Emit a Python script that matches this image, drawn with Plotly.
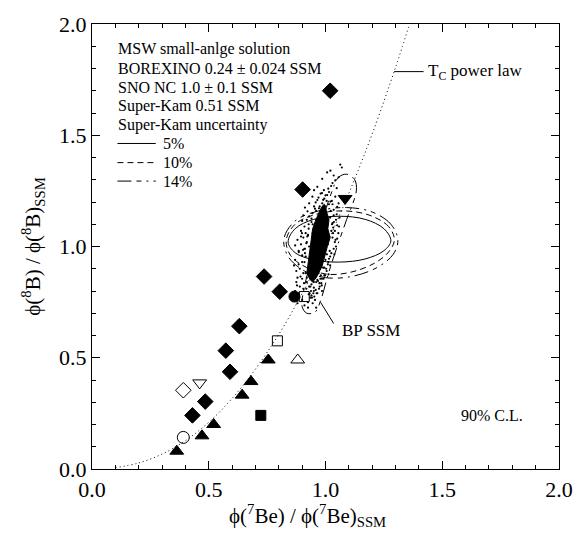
import plotly.graph_objects as go

FONT = "Liberation Serif, Times New Roman, Times, serif"

# ---- measured points (x = phi(7Be)/SSM, y = phi(8B)/SSM) ----
diamond_x = [1.02, 0.902, 0.737, 0.804, 0.631, 0.573, 0.591, 0.485, 0.430]
diamond_y = [1.70, 1.256, 0.865, 0.797, 0.642, 0.532, 0.437, 0.303, 0.241]

tri_up_x = [0.363, 0.471, 0.521, 0.643, 0.681, 0.755]
tri_up_y = [0.080, 0.149, 0.200, 0.332, 0.393, 0.490]

tri_down_x = [1.084]
tri_down_y = [1.216]

square_x = [0.723]
square_y = [0.241]

circle_x = [0.867]
circle_y = [0.775]

open_diamond_x = [0.391]
open_diamond_y = [0.354]

open_tri_down_x = [0.461]
open_tri_down_y = [0.387]

open_circle_x = [0.391]
open_circle_y = [0.142]

open_square_x = [0.794, 0.909]
open_square_y = [0.576, 0.775]

open_tri_up_x = [0.881]
open_tri_up_y = [0.490]

# ---- Tc power-law curve ----
curve_x = [0.10, 0.20, 0.30, 0.40, 0.50, 0.60, 0.70, 0.80, 0.90, 1.00, 1.10, 1.20, 1.30, 1.36]
curve_y = [0.006, 0.027, 0.067, 0.127, 0.21, 0.317, 0.449, 0.605, 0.789, 1.0, 1.239, 1.506, 1.805, 2.0]

# ---- BP SSM Monte Carlo cloud: dense core outline + scattered points ----
core_x = [0.995, 1.005, 1.015, 1.01, 1.02, 1.008, 1.0, 0.99, 0.985, 0.97, 0.96, 0.945, 0.935, 0.92,
          0.925, 0.93, 0.935, 0.94, 0.945, 0.955, 0.965, 0.975, 0.985, 0.995]
core_y = [1.19, 1.15, 1.12, 1.08, 1.04, 1.0, 0.97, 0.94, 0.91, 0.88, 0.86, 0.84, 0.85, 0.88,
          0.92, 0.96, 1.0, 1.04, 1.08, 1.11, 1.14, 1.16, 1.18, 1.19]

cloud_x = [1.063, 1.07, 1.021, 1.035, 1.007, 0.986, 1.042, 1.056, 1.03, 1.024, 0.965, 0.951, 0.993, 1.048, 1.012,
           0.979, 1.007, 1.042, 0.944, 0.965, 0.930, 0.986, 1.021, 1.056, 0.951, 0.972, 1.0, 1.035, 0.923, 0.944,
           1.05, 0.958, 1.015, 0.995, 1.03, 0.912,
           0.905, 0.92, 0.93, 0.945, 1.035, 1.045, 1.05, 1.03, 1.04, 0.91, 0.895, 0.915, 0.928, 1.055, 1.06, 0.94,
           1.033, 0.9, 1.048, 0.925,
           0.88, 0.895, 0.905, 0.91, 0.92, 0.885, 0.9, 1.03, 1.04, 1.035, 1.045, 1.025, 1.05, 0.915, 0.87, 1.02,
           0.895, 1.038,
           0.87, 0.885, 0.9, 0.89, 0.905, 0.875, 0.88, 1.0, 1.01, 1.005, 0.995, 1.02, 0.985, 0.865, 0.99, 1.015, 0.9,
           0.875, 0.89, 0.905, 0.87, 0.885, 0.96, 0.975, 0.95, 0.965, 0.94, 0.955, 0.9, 0.925, 0.935, 0.91, 0.945,
           0.88, 0.96, 0.925, 0.985,
           0.96, 0.985, 0.955, 0.935, 0.92, 0.945, 0.97, 0.96,
           1.015, 1.02, 1.025, 1.01, 0.99, 0.975, 0.96, 0.95, 0.94, 0.93, 0.92, 0.915, 0.91, 0.93, 0.945, 0.96,
           0.975, 0.99, 1.0, 1.005, 0.985, 0.97, 0.955, 0.94, 0.925, 0.912, 0.95, 0.965, 0.98, 0.995,
           1.028, 1.022, 1.032, 1.018, 1.012, 1.003, 0.998, 0.992, 0.982, 0.972, 0.958, 0.948, 0.938, 0.928,
           0.918, 0.908, 0.912, 0.922, 0.928, 0.918, 0.904, 0.899, 1.043, 1.036, 1.027, 1.058, 1.062, 0.893,
           0.886, 0.878, 0.952, 0.962, 0.942, 0.932, 0.974, 0.984, 1.006, 1.013, 0.968, 0.978]
cloud_y = [1.368, 1.355, 1.341, 1.319, 1.333, 1.304, 1.297, 1.311, 1.285, 1.272, 1.268, 1.253, 1.253, 1.262, 1.26,
           1.238, 1.231, 1.224, 1.224, 1.209, 1.194, 1.194, 1.202, 1.194, 1.18, 1.172, 1.18, 1.165, 1.158, 1.15,
           1.178, 1.198, 1.245, 1.215, 1.19, 1.175,
           1.14, 1.12, 1.135, 1.10, 1.14, 1.12, 1.095, 1.105, 1.07, 1.09, 1.07, 1.06, 1.08, 1.06, 1.13, 1.125,
           1.085, 1.115, 1.145, 1.052,
           1.03, 1.01, 1.04, 0.99, 1.02, 0.98, 0.96, 1.04, 1.02, 0.99, 1.0, 0.97, 1.035, 0.955, 1.005, 0.955,
           1.045, 0.965,
           0.94, 0.92, 0.93, 0.90, 0.88, 0.89, 0.86, 0.94, 0.92, 0.89, 0.87, 0.915, 0.855, 0.915, 0.905, 0.945, 0.855,
           0.84, 0.82, 0.81, 0.80, 0.79, 0.84, 0.82, 0.80, 0.79, 0.78, 0.76, 0.76, 0.75, 0.77, 0.735, 0.745,
           0.745, 0.725, 0.725, 0.80,
           1.16, 1.14, 0.88, 0.82, 0.86, 0.865, 0.88, 0.93,
           1.19, 1.13, 1.07, 1.01, 0.95, 0.905, 0.865, 0.84, 0.83, 0.82, 0.84, 0.88, 0.93, 1.0, 1.06, 1.12,
           1.18, 1.21, 1.23, 1.205, 1.24, 1.22, 1.17, 1.11, 1.05, 0.97, 0.815, 0.85, 0.87, 0.905,
           1.10, 1.16, 1.06, 0.98, 0.93, 0.90, 0.87, 0.855, 0.835, 0.81, 0.805, 0.79, 0.80, 0.785,
           0.81, 0.835, 0.99, 1.045, 1.10, 1.015, 0.985, 1.06, 1.03, 1.11, 1.205, 1.09, 1.225, 0.865,
           0.975, 0.825, 0.775, 0.79, 0.77, 0.79, 0.835, 0.825, 0.965, 0.875, 0.845, 0.855]

# ---- 90% C.L. contours for the three Super-Kam uncertainties ----
c5_x = [1.28, 1.25, 1.17, 1.06, 0.95, 0.87, 0.84, 0.87, 0.95, 1.06, 1.17, 1.25, 1.28]
c5_y = [1.025, 1.08, 1.122, 1.136, 1.122, 1.08, 1.02, 0.972, 0.94, 0.93, 0.944, 0.981, 1.025]

c10_x = [1.295, 1.27, 1.19, 1.08, 0.96, 0.87, 0.832, 0.85, 0.92, 1.01, 1.11, 1.21, 1.27, 1.295]
c10_y = [1.03, 1.09, 1.14, 1.16, 1.145, 1.10, 1.03, 0.96, 0.905, 0.875, 0.885, 0.925, 0.975, 1.03]

c14a_x = [1.31, 1.28, 1.20, 1.09, 0.97, 0.87, 0.822, 0.84, 0.91, 1.0, 1.11, 1.22, 1.29, 1.31]
c14a_y = [1.03, 1.10, 1.155, 1.175, 1.16, 1.115, 1.035, 0.955, 0.89, 0.86, 0.865, 0.905, 0.965, 1.03]

c14b_x = [1.09, 1.125, 1.132, 1.09, 1.05, 1.01, 0.98, 0.955, 0.92, 0.90, 0.91, 0.945, 0.985, 1.025, 1.055, 1.09]
c14b_y = [1.325, 1.30, 1.25, 1.12, 1.0, 0.87, 0.76, 0.705, 0.70, 0.73, 0.82, 0.96, 1.11, 1.24, 1.31, 1.325]

legend_lines = [
    "MSW small-anlge solution",
    "BOREXINO 0.24 \u00b1 0.024 SSM",
    "SNO NC 1.0 \u00b1 0.1 SSM",
    "Super-Kam 0.51 SSM",
    "Super-Kam uncertainty",
]
uncert_labels = ["5%", "10%", "14%"]
uncert_dashes = ["solid", "6px,4px", "14px,5px,5px,5px,2px,5px"]

fig = go.Figure()

# power-law curve
fig.add_trace(go.Scatter(x=curve_x, y=curve_y, mode="lines", line_shape="spline",
                         line=dict(color="black", width=1, dash="1px,3px"), hoverinfo="skip"))

# Monte Carlo cloud
fig.add_trace(go.Scatter(x=core_x, y=core_y, mode="lines", fill="toself", fillcolor="black",
                         line=dict(color="black", width=1), hoverinfo="skip"))
fig.add_trace(go.Scatter(x=cloud_x, y=cloud_y, mode="markers",
                         marker=dict(color="black", size=2.2, line=dict(width=0))))

# contours
for cx, cy, dash in [(c5_x, c5_y, uncert_dashes[0]), (c10_x, c10_y, uncert_dashes[1]),
                     (c14a_x, c14a_y, uncert_dashes[2]), (c14b_x, c14b_y, uncert_dashes[2])]:
    fig.add_trace(go.Scatter(x=cx, y=cy, mode="lines", line_shape="spline",
                             line=dict(color="black", width=1, dash=dash), hoverinfo="skip"))

def add_points(xs, ys, symbol, size):
    fig.add_trace(go.Scatter(x=xs, y=ys, mode="markers",
                             marker=dict(symbol=symbol, size=size, color="black",
                                         line=dict(color="black", width=1))))

add_points(diamond_x, diamond_y, "diamond", 12)
add_points(tri_up_x, tri_up_y, "triangle-up", 12)
add_points(tri_down_x, tri_down_y, "triangle-down", 12)
add_points(square_x, square_y, "square", 10)
add_points(circle_x, circle_y, "circle", 11)
add_points(open_diamond_x, open_diamond_y, "diamond-open", 12)
add_points(open_tri_down_x, open_tri_down_y, "triangle-down-open", 12)
add_points(open_circle_x, open_circle_y, "circle-open", 12)
add_points(open_square_x, open_square_y, "square-open", 10)
add_points(open_tri_up_x, open_tri_up_y, "triangle-up-open", 12)

annotations = []
shapes = []
legend_y = [1.886, 1.800, 1.715, 1.632, 1.548]
for text, yv in zip(legend_lines, legend_y):
    annotations.append(dict(x=0.105, y=yv, xref="x", yref="y", text=text, showarrow=False,
                            xanchor="left", yanchor="middle", borderpad=0,
                            font=dict(family=FONT, size=16, color="black")))
sample_y = [1.463, 1.377, 1.294]
for text, dash, yv in zip(uncert_labels, uncert_dashes, sample_y):
    shapes.append(dict(type="line", xref="x", yref="y", x0=0.109, x1=0.273, y0=yv, y1=yv,
                       line=dict(color="black", width=1, dash=dash)))
    annotations.append(dict(x=0.300, y=yv, xref="x", yref="y", text=text, showarrow=False,
                            xanchor="left", yanchor="middle", borderpad=0,
                            font=dict(family=FONT, size=16, color="black")))

# curve label
shapes.append(dict(type="line", xref="x", yref="y", x0=1.294, x1=1.42, y0=1.786, y1=1.786,
                   line=dict(color="black", width=1)))
annotations.append(dict(x=1.43, y=1.786, xref="x", yref="y", text="T<sub>C</sub> power law",
                        showarrow=False, xanchor="left", yanchor="middle",
                        font=dict(family=FONT, size=17, color="black")))
# BP SSM label
shapes.append(dict(type="line", xref="x", yref="y", x0=0.979, x1=1.035, y0=0.749, y1=0.654,
                   line=dict(color="black", width=1)))
annotations.append(dict(x=1.06, y=0.623, xref="x", yref="y", text="BP SSM", showarrow=False,
                        xanchor="left", yanchor="middle", font=dict(family=FONT, size=17, color="black")))
annotations.append(dict(x=1.714, y=0.241, xref="x", yref="y", text="90% C.L.", showarrow=False,
                        xanchor="center", yanchor="middle", font=dict(family=FONT, size=16, color="black")))

# x-axis title, placed just below the tick labels
annotations.append(dict(x=0.462, y=-0.104, xref="paper", yref="paper",
                        text="\u03d5(<sup>7</sup>Be) / \u03d5(<sup>7</sup>Be)<sub>SSM</sub>",
                        showarrow=False, xanchor="center", yanchor="middle", borderpad=0,
                        font=dict(family=FONT, size=21, color="black")))

axis_common = dict(
    range=[0, 2], tickvals=[0, 0.5, 1.0, 1.5, 2.0], ticktext=["0.0", "0.5", "1.0", "1.5", "2.0"],
    ticks="inside", ticklen=8, tickwidth=1, tickcolor="black",
    minor=dict(ticks="inside", dtick=0.1, ticklen=4, tickwidth=1, tickcolor="black"),
    showline=True, linecolor="black", linewidth=1.2, mirror="allticks",
    showgrid=False, zeroline=False,
    tickfont=dict(family=FONT, size=22, color="black"),
)

fig.update_layout(
    width=585, height=539,
    margin=dict(l=92, r=17, t=13, b=70),
    paper_bgcolor="white", plot_bgcolor="white",
    showlegend=False,
    font=dict(family=FONT, color="black"),
    xaxis=dict(axis_common),
    yaxis=dict(axis_common,
               title=dict(text="\u03d5(<sup>8</sup>B) / \u03d5(<sup>8</sup>B)<sub>SSM</sub>",
                          font=dict(family=FONT, size=21, color="black"), standoff=12)),
    annotations=annotations,
    shapes=shapes,
)

fig.write_html("out.html")
